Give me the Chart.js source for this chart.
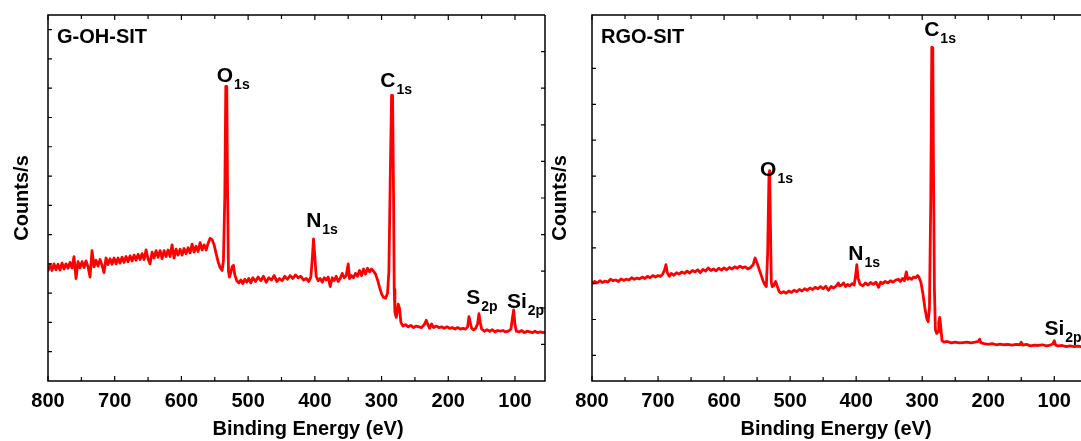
<!DOCTYPE html>
<html>
<head>
<meta charset="utf-8">
<script src="https://cdn.jsdelivr.net/npm/chart.js@4"></script>
<style>
  body { margin: 0; width: 1081px; height: 441px; overflow: hidden; position: relative; background: #fff; }
  .panel { position: absolute; top: 0; height: 441px; }
</style>
</head>
<body>
<div class="panel" style="left:0;width:548px"><canvas id="left"></canvas></div>
<div class="panel" style="left:548px;width:537px"><canvas id="right"></canvas></div>
<script>
// tick labels of the energy axis
const xTickLabels = [800, 700, 600, 500, 400, 300, 200, 100]

// G-OH-SIT survey spectrum
const energyA = [800,797,794,791,788,785,782,779,776,773,770,767,764,761,758,755,752,749,746,743,740,737,734,731,728,725,722,719,716,713,710,707,704,701,698,695,692,689,686,683,680,677,674,671,668,665,662,659,656,653,650,647,644,641,638,635,632,629,626,623,620,617,614,611,608,605,602,599,596,593,590,587,584,581,578,575,572,569,566,563,560,557,554,551,548,545,542,539,537,535,533.5,532,531,529.5,528,526,524,522,520,517,514,511,508,505,502,499,496,493,489,485,481,477,473,469,465,461,457,453,449,445,441,437,433,429,425,421,417,413,409,406,404,402,400,398,395,392,389,386,383,380,377,374,371,368,365,362,359,356,353,350,348,345,342,339,336,333,330,327,324,321,318,315,312,309,306,303,300,297,294,291,289,287,285,283.5,282,281,280,278,276,275,273,271,268,264,260,256,252,248,244,240,236,233,231,228,225,222,218,214,210,206,202,198,194,190,186,182,178,174,171,169,167,165,162,159,156,154,152,150,146,142,138,134,130,126,122,118,114,110,106,104,102,100,98,94,90,86,82,78,74,70,66,62,58,55]
const countsA = [30.0,31.8,30.2,32.0,30.4,31.9,30.3,32.2,30.6,32.0,30.8,32.4,30.9,34.0,28.0,32.6,30.9,32.6,31.0,32.8,31.2,28.4,35.6,31.2,33.0,31.4,33.2,31.6,29.6,33.6,31.8,33.4,31.9,33.6,32.0,33.6,32.2,33.8,32.4,34.0,32.6,34.2,32.8,34.4,33.0,34.6,33.2,34.8,33.2,35.8,33.4,32.0,35.2,33.6,35.6,33.8,35.6,33.4,35.6,34.0,35.8,34.0,37.2,33.6,36.0,34.4,36.0,34.4,36.2,34.8,36.4,35.0,37.4,35.2,36.8,35.4,37.8,35.8,37.2,35.8,37.6,39.0,38.6,37.2,34.8,32.6,31.0,30.2,33.0,50.0,80.5,80.5,55.0,30.0,28.4,29.6,31.2,31.6,29.0,27.4,26.8,27.6,26.6,27.8,27.0,28.0,26.8,28.2,27.2,28.4,27.4,28.6,27.0,28.2,27.6,28.8,27.2,28.0,27.4,28.6,27.8,28.8,28.0,29.0,28.2,28.6,27.6,28.0,27.2,28.4,33.0,38.8,34.0,28.6,27.4,28.0,27.0,28.2,27.6,28.4,25.8,28.2,27.4,28.6,27.2,28.0,29.4,28.2,28.8,32.0,28.0,28.8,28.2,29.4,28.6,30.2,28.8,30.6,29.2,30.8,29.8,30.6,30.0,29.2,27.6,25.6,23.8,22.8,22.6,24.0,30.0,55.0,78.0,78.0,50.0,25.0,18.8,17.4,19.6,21.0,19.8,16.0,15.0,15.4,14.8,15.2,14.6,15.0,14.8,14.6,15.4,16.6,15.6,14.4,15.6,14.6,15.0,14.6,14.8,14.4,14.8,14.4,14.6,14.2,14.6,14.2,14.4,14.2,14.8,17.6,16.0,14.4,14.0,14.4,15.6,18.4,16.0,14.2,13.6,14.0,13.6,14.0,13.4,13.8,13.6,13.8,13.4,13.6,14.2,17.0,19.4,15.4,13.6,13.4,13.8,13.2,13.6,13.4,13.2,13.6,13.2,13.4,13.2,13.4]

// RGO-SIT survey spectrum
const energyB = [800,796,792,788,784,780,776,772,768,764,760,756,752,748,744,740,736,732,728,724,720,716,712,708,704,700,696,693,690,688,686,683,680,676,672,668,664,660,656,652,648,644,640,636,632,628,624,620,616,612,608,604,600,596,592,588,584,580,576,572,568,564,560,556,553,550,547,544,541,538,536,534,532,531,530,528.5,527,525,522,520,517,514,510,506,502,498,494,490,486,482,478,474,470,466,462,458,454,450,446,442,438,434,430,427,425,422,419,416,413,410,406,403,401,399,397,394,390,386,382,378,374,370,366,363,360,356,352,348,344,340,336,333,330,327,324,322,319,316,313,310,307,305,302,299,296,293,291,289,287,285.5,284,283,281.5,280,278,276,275,273.5,272,270,267,262,256,250,244,238,232,226,220,215,213,211,206,200,194,188,182,176,170,164,158,152,150,148,142,136,130,124,118,112,106,102,100,98,94,88,82,76,70,64,58,55]
const countsB = [26.6,27.2,26.8,27.4,26.9,27.3,27.0,27.8,27.4,27.6,27.2,27.9,27.5,27.8,27.6,28.2,27.8,28.1,27.9,28.4,28.0,28.6,28.2,28.8,28.4,28.8,28.6,29.2,30.4,31.8,29.6,28.6,29.4,28.9,29.6,29.2,29.8,29.4,30.0,29.5,30.2,29.8,30.4,29.6,30.5,30.0,30.9,30.2,30.6,30.1,30.8,30.3,30.9,30.4,31.0,30.6,31.2,30.8,31.4,30.9,31.2,30.6,31.0,31.8,33.6,32.2,30.6,29.0,27.4,26.2,25.8,35.0,56.5,57.5,45.0,27.0,25.8,26.0,27.2,26.2,24.6,24.0,24.4,24.0,24.6,24.2,24.8,24.4,25.0,24.6,25.2,24.8,25.4,25.0,25.6,25.2,25.8,25.2,25.9,24.8,25.8,25.4,26.0,26.8,26.0,26.2,26.8,25.8,26.4,26.0,26.6,26.2,28.6,31.8,28.0,26.4,26.0,26.8,26.2,26.9,26.4,27.0,25.6,27.0,26.6,27.2,26.8,27.4,27.0,27.6,27.8,27.2,28.0,27.4,29.8,27.8,28.2,27.8,28.4,28.2,28.8,28.4,27.0,24.0,20.0,17.0,16.2,20.0,50.0,91.2,91.0,60.0,25.0,14.0,13.0,13.4,16.0,17.4,15.0,11.0,10.6,10.8,10.4,10.6,10.4,10.5,10.6,10.4,10.6,10.8,11.4,10.4,10.2,10.0,10.2,9.9,10.1,9.9,10.0,9.8,10.0,9.9,10.6,9.8,10.0,9.6,9.8,9.7,9.9,9.6,9.8,10.2,11.0,9.8,9.6,9.7,9.4,9.6,9.4,9.5,9.3,9.4]

// peak labels: main text, subscript, energy, counts at the text baseline
const peaksA = [
  { main: 'O', sub: '1s', x: 547, y: 81.7 },
  { main: 'C', sub: '1s', x: 302, y: 80.3 },
  { main: 'N', sub: '1s', x: 413, y: 42 },
  { main: 'S', sub: '2p', x: 173, y: 21 },
  { main: 'Si', sub: '2p', x: 112, y: 20 }
]
const peaksB = [
  { main: 'O', sub: '1s', x: 545.5, y: 56 },
  { main: 'C', sub: '1s', x: 297, y: 94.3 },
  { main: 'N', sub: '1s', x: 412, y: 33 },
  { main: 'Si', sub: '2p', x: 115, y: 12.6 }
]

// inward tick marks on the counts axes (no labels)
const yTicksA = { left: [8, 16, 24, 32, 40, 48, 56, 64, 72, 80, 88, 96], right: [10, 20, 30, 40, 50, 60, 70, 80, 90] }
const yTicksB = { left: [7, 16.8, 26.6, 36.4, 46.2, 56, 65.8, 75.6, 85.4], right: [] }

const FONT = 'Liberation Sans, Arial, sans-serif'

const framePlugin = {
  id: 'frame',
  afterDraw(chart, args, opts) {
    const { ctx, chartArea: a, scales } = chart
    const x = scales.x, y = scales.y
    ctx.save()
    ctx.strokeStyle = '#000'
    ctx.lineWidth = 1.5
    ctx.beginPath()
    ctx.moveTo(a.right, a.top); ctx.lineTo(a.left, a.top)
    ctx.lineTo(a.left, a.bottom); ctx.lineTo(a.right, a.bottom)
    if (opts.rightBorder) ctx.lineTo(a.right, a.top)
    ctx.stroke()
    ctx.lineWidth = 1.2
    ctx.beginPath()
    for (let v = 50; v <= 800; v += 50) {
      if (v < x.min) continue
      const px = x.getPixelForValue(v)
      const len = v % 100 === 0 ? 5 : 4
      ctx.moveTo(px, a.bottom); ctx.lineTo(px, a.bottom - len)
      ctx.moveTo(px, a.top); ctx.lineTo(px, a.top + len)
    }
    opts.ticks.left.forEach(v => {
      const py = y.getPixelForValue(v)
      ctx.moveTo(a.left, py); ctx.lineTo(a.left + 4, py)
    })
    opts.ticks.right.forEach(v => {
      const py = y.getPixelForValue(v)
      ctx.moveTo(a.right, py); ctx.lineTo(a.right - 4, py)
    })
    ctx.stroke()

    ctx.fillStyle = '#000'
    ctx.textBaseline = 'alphabetic'
    ctx.textAlign = 'left'
    ctx.font = 'bold 20px ' + FONT
    ctx.fillText(opts.title, a.left + 9, 43)

    opts.peaks.forEach(p => {
      const px = x.getPixelForValue(p.x)
      const py = y.getPixelForValue(p.y)
      ctx.font = 'bold 21px ' + FONT
      ctx.fillText(p.main, px, py)
      const w = ctx.measureText(p.main).width
      ctx.font = 'bold 14px ' + FONT
      ctx.fillText(p.sub, px + w + 1, py + 7)
    })

    ctx.textAlign = 'center'
    ctx.font = 'bold 20px ' + FONT
    ctx.fillText('Binding Energy (eV)', opts.xTitleCenter, 435)
    ctx.restore()
  }
}

function makePanel(id, energies, counts, o) {
  const ctx = document.getElementById(id).getContext('2d')
  return new Chart(ctx, {
    type: 'line',
    data: {
      datasets: [{
        data: energies.map((e, i) => ({ x: e, y: counts[i] })),
        borderColor: '#ff0000',
        borderWidth: 2.8,
        borderJoinStyle: 'round',
        pointRadius: 0,
        tension: 0
      }]
    },
    options: {
      responsive: true,
      maintainAspectRatio: false,
      animation: false,
      layout: { padding: { top: 15, right: o.padRight, left: 0, bottom: 0 } },
      plugins: {
        legend: { display: false },
        tooltip: { enabled: false },
        frame: { title: o.title, peaks: o.peaks, ticks: o.yTicks, xTitleCenter: o.xTitleCenter, rightBorder: o.rightBorder }
      },
      scales: {
        x: {
          type: 'linear',
          reverse: true,
          min: 55,
          max: 800,
          afterBuildTicks: s => { s.ticks = xTickLabels.map(v => ({ value: v })) },
          afterFit: s => { s.height = 60 },
          grid: { display: false, drawTicks: false },
          border: { display: false },
          ticks: { color: '#000', padding: 8, maxRotation: 0, font: { family: FONT, size: 20, weight: 'bold' } }
        },
        y: {
          min: 0,
          max: 100,
          afterFit: s => { s.width = o.yWidth },
          grid: { display: false, drawTicks: false },
          border: { display: false },
          ticks: { display: false },
          title: {
            display: true,
            text: 'Counts/s',
            color: '#000',
            padding: { top: o.yTitlePad, bottom: 0 },
            font: { family: FONT, size: 20, weight: 'bold' }
          }
        }
      }
    },
    plugins: [framePlugin]
  })
}

makePanel('left', energyA, countsA, {
  title: 'G-OH-SIT', peaks: peaksA, yTicks: yTicksA, rightBorder: true,
  padRight: 3, yWidth: 48, yTitlePad: 10, xTitleCenter: 308
})
makePanel('right', energyB, countsB, {
  title: 'RGO-SIT', peaks: peaksB, yTicks: yTicksB, rightBorder: false,
  padRight: 1, yWidth: 44, yTitlePad: 0, xTitleCenter: 288
})
</script>
</body>
</html>
